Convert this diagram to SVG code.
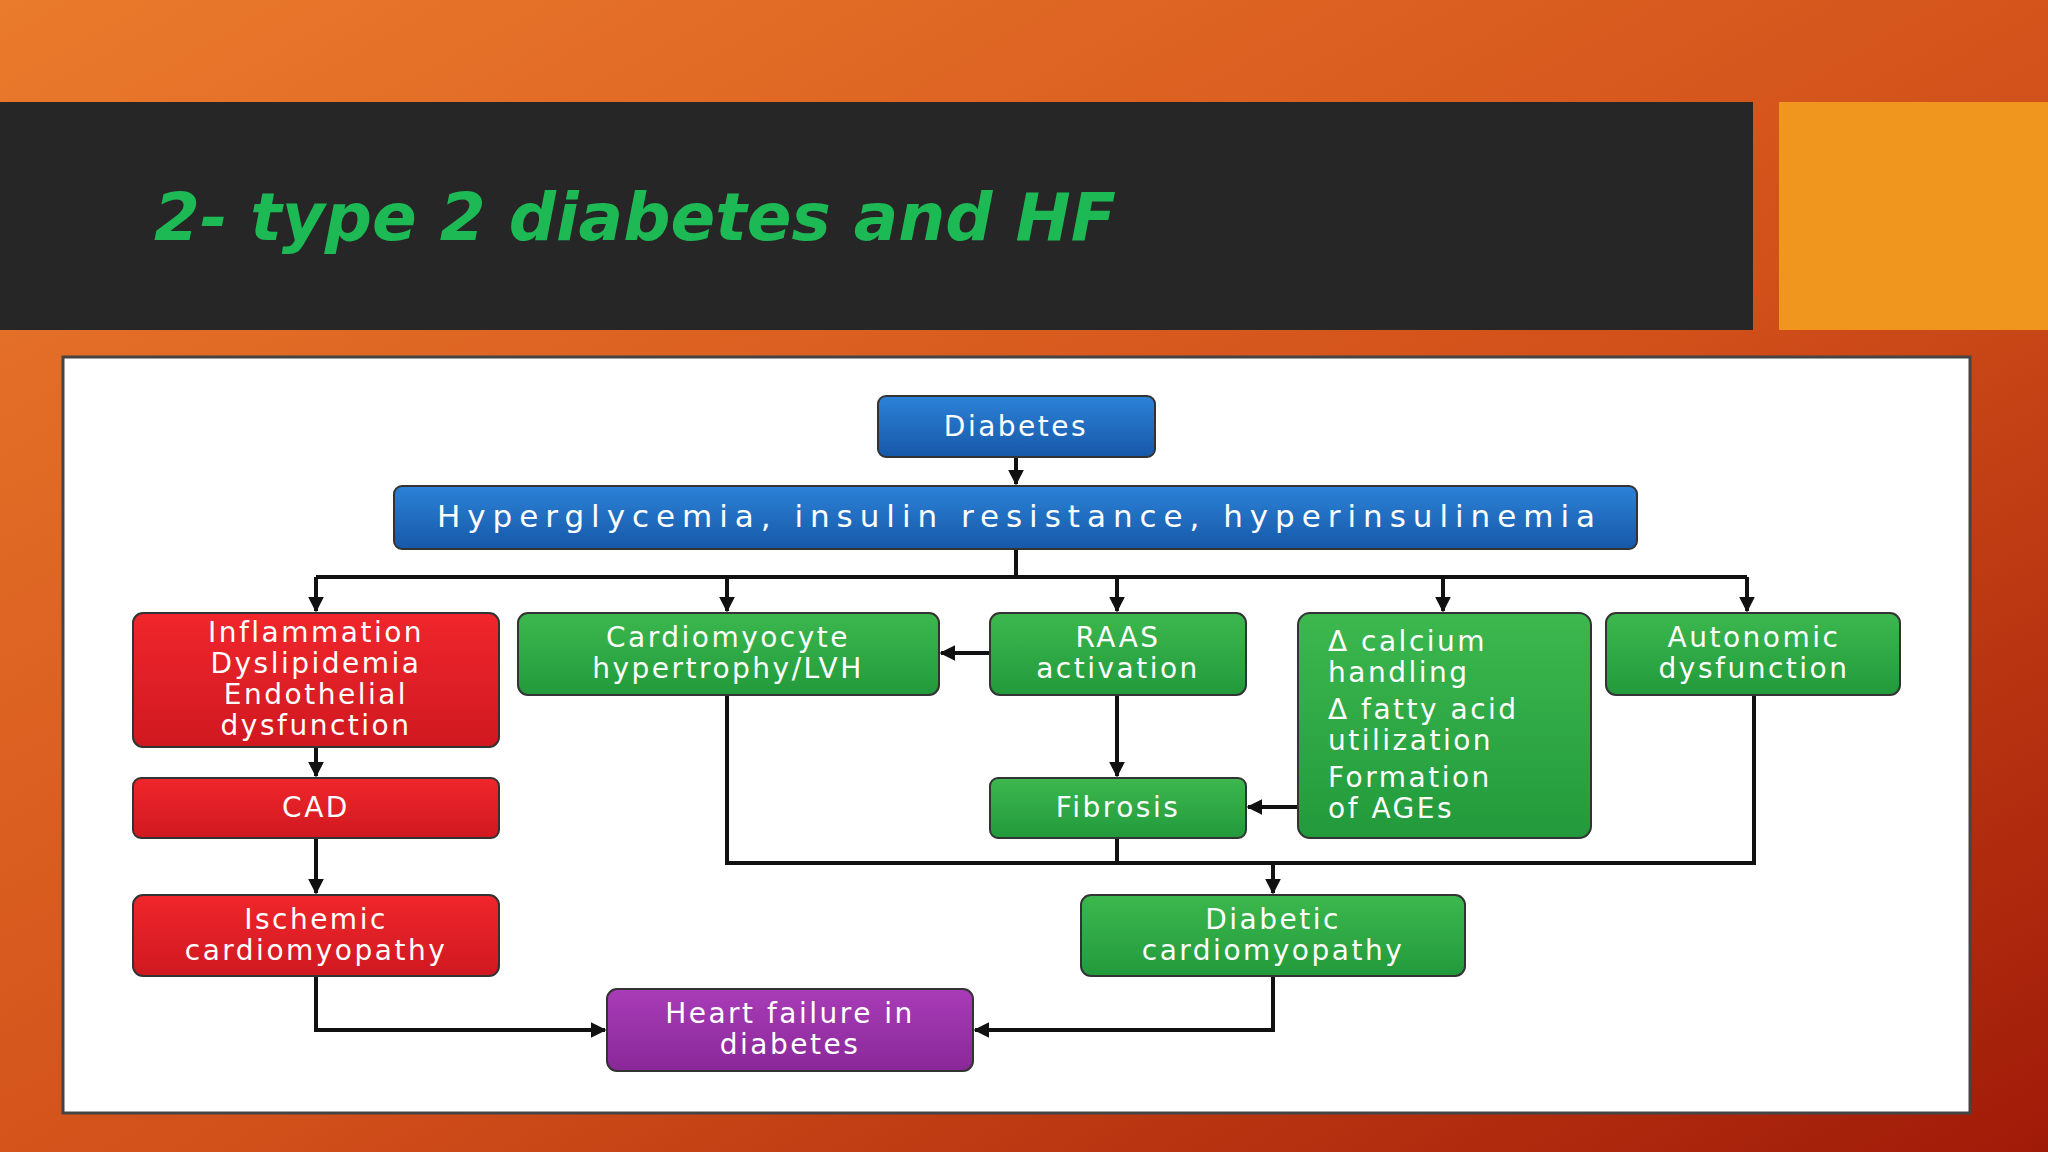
<svg xmlns="http://www.w3.org/2000/svg" width="2048" height="1152" viewBox="0 0 2048 1152">
<defs>
<linearGradient id="bg" x1="0" y1="0" x2="1" y2="1"><stop offset="0" stop-color="#ea7a2c"/><stop offset="0.55" stop-color="#d2501a"/><stop offset="1" stop-color="#a01a08"/></linearGradient>
<linearGradient id="gb" x1="0" y1="0" x2="0" y2="1"><stop offset="0" stop-color="#2b82d8"/><stop offset="1" stop-color="#1758a8"/></linearGradient>
<linearGradient id="gr" x1="0" y1="0" x2="0" y2="1"><stop offset="0" stop-color="#f0262c"/><stop offset="1" stop-color="#d01820"/></linearGradient>
<linearGradient id="gg" x1="0" y1="0" x2="0" y2="1"><stop offset="0" stop-color="#3cb84e"/><stop offset="1" stop-color="#229a3c"/></linearGradient>
<linearGradient id="gp" x1="0" y1="0" x2="0" y2="1"><stop offset="0" stop-color="#a83cb8"/><stop offset="1" stop-color="#8a2898"/></linearGradient>
<marker id="ar" viewBox="0 0 10 10" refX="9" refY="5" markerWidth="4" markerHeight="4" orient="auto"><path d="M0,0 L10,5 L0,10 z" fill="#111"/></marker>
</defs>
<style>
.n rect{stroke:#333;stroke-width:2}
.b rect{fill:url(#gb)} .r rect{fill:url(#gr)} .g rect{fill:url(#gg)} .p rect{fill:url(#gp)}
.n text{font-family:"DejaVu Sans",sans-serif;font-size:28px;fill:#fff;text-anchor:middle;letter-spacing:2.5px}
.c path{fill:none;stroke:#111;stroke-width:4;marker-end:url(#ar)}
.c path.nm{marker-end:none}
</style>
<rect width="2048" height="1152" fill="url(#bg)"/>
<rect x="0" y="102" width="1753" height="228" fill="#262626"/>
<rect x="1779" y="102" width="269" height="228" fill="#f0961e"/>
<text x="154" y="240" font-family="DejaVu Sans, sans-serif" font-size="66" font-weight="bold" font-style="italic" fill="#1db954">2- type 2 diabetes and HF</text>
<rect x="63" y="357" width="1907" height="756" fill="#fff" stroke="#444" stroke-width="3"/>
<g class="c">
<path d="M1016,457 V484"/>
<path class="nm" d="M1016,549 V577 M316,577 H1747"/>
<path d="M316,577 V611"/><path d="M727,577 V611"/><path d="M1117,577 V611"/><path d="M1443,577 V611"/><path d="M1747,577 V611"/>
<path d="M316,747 V776"/>
<path d="M316,838 V893"/>
<path d="M990,653 H941"/>
<path d="M1117,695 V776"/>
<path d="M1298,807 H1248"/>
<path class="nm" d="M727,695 V863 H1754 V695 M1117,838 V863"/>
<path d="M1273,863 V893"/>
<path d="M316,976 V1030 H605"/>
<path d="M1273,976 V1030 H975"/>
</g>
<g id="diabetes" class="n b"><rect x="878" y="396" width="277" height="61" rx="8"/><text x="1016" y="436">Diabetes</text></g>
<g id="hyper" class="n b"><rect x="394" y="486" width="1243" height="63" rx="8"/><text x="1016" y="527" textLength="1158" lengthAdjust="spacing" style="font-size:31px;letter-spacing:0">Hyperglycemia, insulin resistance, hyperinsulinemia</text></g>
<g id="inflammation" class="n r"><rect x="133" y="613" width="366" height="134" rx="10"/><text x="316" y="642">Inflammation</text><text x="316" y="673">Dyslipidemia</text><text x="316" y="704">Endothelial</text><text x="316" y="735">dysfunction</text></g>
<g id="cardio" class="n g"><rect x="518" y="613" width="421" height="82" rx="10"/><text x="728" y="647">Cardiomyocyte</text><text x="728" y="678">hypertrophy/LVH</text></g>
<g id="raas" class="n g"><rect x="990" y="613" width="256" height="82" rx="10"/><text x="1118" y="647">RAAS</text><text x="1118" y="678">activation</text></g>
<g id="calcium" class="n g"><rect x="1298" y="613" width="293" height="225" rx="12"/>
<text x="1328" y="651" style="text-anchor:start">Δ calcium</text><text x="1328" y="682" style="text-anchor:start">handling</text><text x="1328" y="719" style="text-anchor:start">Δ fatty acid</text><text x="1328" y="750" style="text-anchor:start">utilization</text><text x="1328" y="787" style="text-anchor:start">Formation</text><text x="1328" y="818" style="text-anchor:start">of AGEs</text></g>
<g id="autonomic" class="n g"><rect x="1606" y="613" width="294" height="82" rx="10"/><text x="1754" y="647">Autonomic</text><text x="1754" y="678">dysfunction</text></g>
<g id="cad" class="n r"><rect x="133" y="778" width="366" height="60" rx="8"/><text x="316" y="817">CAD</text></g>
<g id="fibrosis" class="n g"><rect x="990" y="778" width="256" height="60" rx="8"/><text x="1118" y="817">Fibrosis</text></g>
<g id="ischemic" class="n r"><rect x="133" y="895" width="366" height="81" rx="10"/><text x="316" y="929">Ischemic</text><text x="316" y="960">cardiomyopathy</text></g>
<g id="diabeticcm" class="n g"><rect x="1081" y="895" width="384" height="81" rx="10"/><text x="1273" y="929">Diabetic</text><text x="1273" y="960">cardiomyopathy</text></g>
<g id="hf" class="n p"><rect x="607" y="989" width="366" height="82" rx="10"/><text x="790" y="1023">Heart failure in</text><text x="790" y="1054">diabetes</text></g>
</svg>
